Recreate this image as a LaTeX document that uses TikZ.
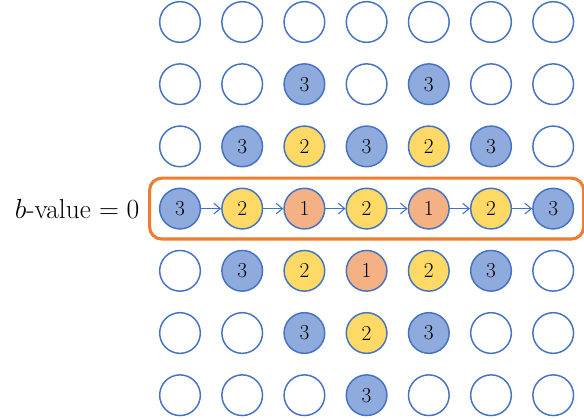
\documentclass[tikz,border=0pt]{standalone}
\usepackage{fontspec}
\usetikzlibrary{positioning,arrows.meta,fit}
\definecolor{bvazul}{HTML}{4472C4}
\definecolor{bvazulclaro}{HTML}{8FAADC}
\definecolor{bvamarelo}{HTML}{FFD966}
\definecolor{bvlaranja}{HTML}{ED7D31}
\definecolor{bvlaranjaclaro}{HTML}{F4B183}
\tikzset{
  bvcelula/.style={circle, draw=bvazul, line width=1.1pt, minimum size=30.5pt, inner sep=0pt,
                   font=\fontsize{16}{18}\selectfont},
  bvseta/.style={-{Straight Barb[length=1.7mm, width=2.8mm]}, draw=bvazul, line width=0.8pt},
  bvcaixa/.style={draw=bvlaranja, line width=2.3pt, rounded corners=9pt},
  bvrotulo/.style={font=\fontsize{20.5}{25}\selectfont},
}
\begin{document}
\begin{tikzpicture}[x=0.75pt, y=-0.75pt]
  \useasboundingbox (0,0) rectangle (584,418);
  % 0 = vazio, 1/2/3 = valor
  \foreach \linha [count=\r] in {{0,0,0,0,0,0,0},{0,0,3,0,3,0,0},{0,3,2,3,2,3,0},
      {3,2,1,2,1,2,3},{0,3,2,1,2,3,0},{0,0,3,2,3,0,0},{0,0,0,3,0,0,0}}{
    \foreach \v [count=\c] in \linha {
      \ifcase\v \def\cor{white}\or \def\cor{bvlaranjaclaro}\or \def\cor{bvamarelo}\or \def\cor{bvazulclaro}\fi
      \node[bvcelula, fill=\cor] (c\r\c) at ({180+62.2*(\c-1)}, {22+62.2*(\r-1)}) {\ifnum\v>0 \v\fi};
    }
  }
  \foreach \a [evaluate=\a as \b using int(\a+1)] in {1,...,6}
    \draw[bvseta] (c4\a) -- (c4\b);
  \node[bvcaixa, fit=(c41)(c47), inner sep=7pt] (caixa) {};
  \node[bvrotulo, left=3pt of caixa] (rotulo) {$b$-value $=0$};
\end{tikzpicture}
\end{document}
